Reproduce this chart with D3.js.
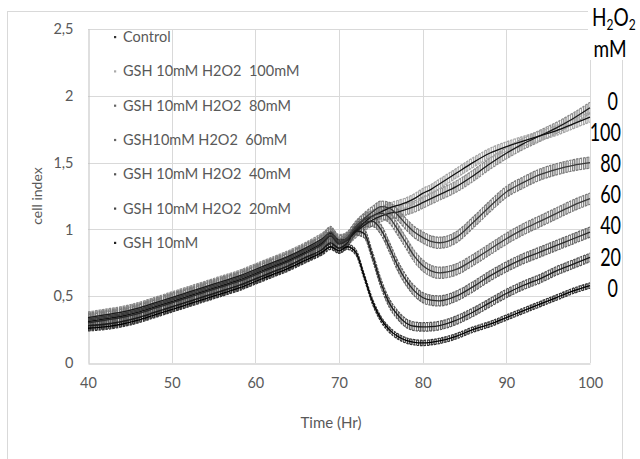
<!DOCTYPE html>
<html>
<head>
<meta charset="utf-8">
<script src="https://cdn.jsdelivr.net/npm/d3@7"></script>
<style>
  body { margin: 0; background: #fff; }
  text { font-family: Lato, "Open Sans", sans-serif; }
</style>
</head>
<body>
<div id="chart"></div>
<script>
// sampling times (hours)
const hours = [40, 42, 44, 46, 48, 50, 52, 54, 56, 58, 60, 62, 64, 66, 68,
  69, 70, 71, 72, 73, 74, 75, 76, 77, 78, 79, 80, 81, 82,
  84, 86, 88, 90, 92, 94, 96, 98, 100];

const seriesNames = ['Control', 'GSH 10mM H2O2  100mM', 'GSH 10mM H2O2  80mM', 'GSH10mM H2O2  60mM',
  'GSH 10mM H2O2  40mM', 'GSH 10mM H2O2  20mM', 'GSH 10mM'];

const control = [0.34, 0.36, 0.38, 0.41, 0.45, 0.49, 0.53, 0.57, 0.61, 0.65, 0.70, 0.75, 0.80, 0.86, 0.93,
  0.97, 0.92, 0.93, 0.98, 1.03, 1.07, 1.10, 1.12, 1.13, 1.15, 1.17, 1.20, 1.23, 1.26,
  1.32, 1.40, 1.49, 1.57, 1.64, 1.70, 1.76, 1.83, 1.91];
const h100 = [0.31, 0.33, 0.35, 0.38, 0.42, 0.46, 0.50, 0.54, 0.58, 0.62, 0.67, 0.72, 0.77, 0.83, 0.90,
  0.95, 0.90, 0.92, 0.99, 1.05, 1.10, 1.13, 1.16, 1.18, 1.20, 1.23, 1.27, 1.30, 1.34,
  1.42, 1.50, 1.57, 1.62, 1.66, 1.70, 1.74, 1.79, 1.84];
const h80 = [0.33, 0.35, 0.37, 0.40, 0.44, 0.48, 0.52, 0.56, 0.60, 0.64, 0.69, 0.74, 0.79, 0.85, 0.92,
  0.98, 0.91, 0.94, 1.02, 1.08, 1.13, 1.17, 1.16, 1.11, 1.04, 0.98, 0.94, 0.91, 0.90,
  0.94, 1.05, 1.17, 1.28, 1.35, 1.41, 1.45, 1.48, 1.50];
const h60 = [0.32, 0.34, 0.36, 0.39, 0.43, 0.47, 0.51, 0.55, 0.59, 0.63, 0.68, 0.73, 0.78, 0.84, 0.91,
  0.96, 0.90, 0.93, 1.01, 1.07, 1.10, 1.12, 1.09, 1.00, 0.90, 0.80, 0.73, 0.69, 0.675,
  0.70, 0.77, 0.85, 0.93, 1.00, 1.06, 1.12, 1.18, 1.23];
const h40 = [0.30, 0.32, 0.34, 0.37, 0.41, 0.45, 0.49, 0.53, 0.57, 0.61, 0.66, 0.71, 0.76, 0.82, 0.89,
  0.95, 0.89, 0.92, 1.00, 1.05, 1.06, 1.00, 0.87, 0.73, 0.62, 0.54, 0.49, 0.47, 0.465,
  0.50, 0.57, 0.65, 0.72, 0.78, 0.83, 0.88, 0.93, 0.98];
const h20 = [0.28, 0.29, 0.31, 0.34, 0.38, 0.42, 0.46, 0.50, 0.54, 0.58, 0.63, 0.68, 0.73, 0.79, 0.85,
  0.90, 0.86, 0.90, 0.99, 0.97, 0.80, 0.60, 0.45, 0.36, 0.30, 0.275, 0.27, 0.272, 0.28,
  0.32, 0.38, 0.45, 0.52, 0.58, 0.63, 0.69, 0.74, 0.79];
const gsh = [0.26, 0.27, 0.29, 0.32, 0.36, 0.40, 0.44, 0.48, 0.52, 0.56, 0.61, 0.66, 0.71, 0.77, 0.83,
  0.87, 0.84, 0.87, 0.83, 0.65, 0.46, 0.33, 0.25, 0.20, 0.17, 0.155, 0.15, 0.155, 0.165,
  0.20, 0.25, 0.29, 0.34, 0.39, 0.44, 0.49, 0.54, 0.58];

// error bar half-height per series
const errors = [0.042, 0.036, 0.042, 0.042, 0.038, 0.032, 0.02];

const endLabels = ['0', '100', '80', '60', '40', '20', '0'];
const xTicks = [40, 50, 60, 70, 80, 90, 100];
const yTicks = [0, 0.5, 1, 1.5, 2, 2.5];

const allSeries = [control, h100, h80, h60, h40, h20, gsh];
const bandColors = ['#8a8a8a', '#a4a4a4', '#7a7a7a', '#7a7a7a', '#646464', '#545454', '#333333'];
const lineColors = ['#1a1a1a', '#111', '#3a3a3a', '#3a3a3a', '#2a2a2a', '#1a1a1a', '#000'];
const bulletColors = ['#333', '#aaa', '#666', '#666', '#555', '#444', '#222'];

const W = 640, H = 459;
const svg = d3.select('#chart').append('svg').attr('width', W).attr('height', H);

// outer chart frame
svg.append('rect')
  .attr('x', 7.5).attr('y', 11.5).attr('width', 615).attr('height', 470)
  .attr('fill', 'none').attr('stroke', '#d9d9d9');

const x = d3.scaleLinear().domain([40, 100]).range([88, 590]);
const y = d3.scaleLinear().domain([0, 2.5]).range([363, 29]);

// gridlines
svg.append('g').selectAll('line.h').data(yTicks.slice(1)).enter().append('line')
  .attr('x1', x(40)).attr('x2', x(100))
  .attr('y1', d => Math.round(y(d)) + 0.5).attr('y2', d => Math.round(y(d)) + 0.5)
  .attr('stroke', '#d9d9d9');
svg.append('g').selectAll('line.v').data(xTicks.slice(1)).enter().append('line')
  .attr('y1', y(0)).attr('y2', y(2.5))
  .attr('x1', d => Math.round(x(d)) + 0.5).attr('x2', d => Math.round(x(d)) + 0.5)
  .attr('stroke', '#d9d9d9');

// axes
const xAxis = svg.append('g').attr('transform', 'translate(0,' + (Math.round(y(0)) + 0.5) + ')')
  .call(d3.axisBottom(x).tickValues(xTicks).tickSize(0).tickPadding(14));
const yAxis = svg.append('g').attr('transform', 'translate(' + (Math.round(x(40)) + 0.5) + ',0)')
  .call(d3.axisLeft(y).tickValues(yTicks).tickSize(0).tickPadding(15)
    .tickFormat(d => d3.format('.1~f')(d).replace('.', ',')));
[xAxis, yAxis].forEach(g => {
  g.select('.domain').attr('stroke', '#bfbfbf');
  g.selectAll('text').attr('fill', '#595959').style('font-size', '14.5px')
    .style('font-family', 'Lato, sans-serif');
});

// hatch patterns that mimic dense error bars
const defs = svg.append('defs');
bandColors.forEach((c, i) => {
  const p = defs.append('pattern').attr('id', 'hatch' + i)
    .attr('patternUnits', 'userSpaceOnUse').attr('width', 2.2).attr('height', 4);
  p.append('rect').attr('x', 0).attr('y', 0).attr('width', 1.2).attr('height', 4).attr('fill', c);
});

const pts = s => s.map((v, j) => ({ t: hours[j], v: v }));

const plot = svg.append('g');
allSeries.forEach((s, i) => {
  const data = pts(s);
  const err = errors[i];
  const area = d3.area().curve(d3.curveMonotoneX)
    .x(d => x(d.t)).y0(d => y(d.v - err)).y1(d => y(d.v + err));
  const edge = off => d3.line().curve(d3.curveMonotoneX).x(d => x(d.t)).y(d => y(d.v + off));
  plot.append('path').datum(data).attr('d', area)
    .attr('fill', 'url(#hatch' + i + ')');
  [err, -err].forEach(off => {
    plot.append('path').datum(data).attr('d', edge(off))
      .attr('fill', 'none').attr('stroke', bandColors[i]).attr('stroke-width', 1.2)
      .attr('stroke-dasharray', '2.5,1');
  });
});
allSeries.forEach((s, i) => {
  plot.append('path').datum(pts(s))
    .attr('d', d3.line().curve(d3.curveMonotoneX).x(d => x(d.t)).y(d => y(d.v)))
    .attr('fill', 'none').attr('stroke', lineColors[i]).attr('stroke-width', 1.3);
});

// legend
const legend = svg.append('g');
seriesNames.forEach((name, i) => {
  const ly = 42 + i * 34.3;
  legend.append('rect').attr('x', 114).attr('y', ly - 6).attr('width', 2.2).attr('height', 2.2)
    .attr('fill', bulletColors[i]);
  legend.append('text').attr('x', 123).attr('y', ly).text(name)
    .attr('fill', '#595959').style('font-size', '14.5px').style('white-space', 'pre');
});

// axis titles
svg.append('text').attr('x', 331).attr('y', 428).attr('text-anchor', 'middle')
  .attr('fill', '#595959').style('font-size', '15px').text('Time (Hr)');
svg.append('text').attr('transform', 'translate(42,196) rotate(-90)').attr('text-anchor', 'middle')
  .attr('fill', '#595959').style('font-size', '14px').text('cell index');

// right-hand H2O2 concentration labels
svg.append('rect').attr('x', 588).attr('y', 0).attr('width', 52).attr('height', 60).attr('fill', '#fff');
const h2o2 = svg.append('text').attr('transform', 'translate(592,26) scale(1,1.3)')
  .attr('fill', '#000').style('font-size', '19px');
h2o2.append('tspan').text('H');
h2o2.append('tspan').text('2').attr('dy', 3).style('font-size', '12px');
h2o2.append('tspan').text('O').attr('dy', -3);
h2o2.append('tspan').text('2').attr('dy', 3).style('font-size', '12px');
svg.append('text').attr('transform', 'translate(610,57) scale(1,1.2)').attr('text-anchor', 'middle')
  .attr('fill', '#000').style('font-size', '19px').text('mM');

const labelYs = allSeries.map((s, i) => 110 + i * 31.1);
endLabels.forEach((lab, i) => {
  svg.append('text')
    .attr('transform', 'translate(' + (lab === '0' ? 618 : 621) + ',' + labelYs[i] + ') scale(1,1.35)')
    .attr('text-anchor', 'end').attr('fill', '#000').style('font-size', '18px').text(lab);
});
</script>
</body>
</html>
